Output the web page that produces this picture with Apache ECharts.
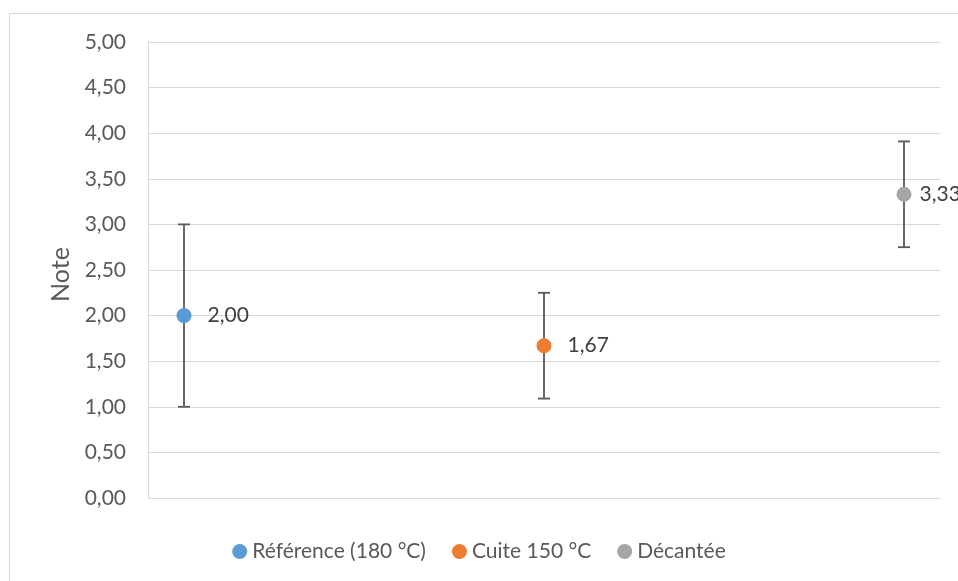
<!DOCTYPE html>
<html><head><meta charset="utf-8">
<script src="https://cdn.jsdelivr.net/npm/echarts@6/dist/echarts.min.js"></script>
<style>html,body{margin:0;padding:0;background:#fff}#c{width:958px;height:581px}</style>
</head><body><div id="c"></div>
<script>
var seriesNames = ['Référence (180 °C)', 'Cuite 150 °C', 'Décantée'];
var xPositions = [1, 2, 3];
var means = [2.00, 1.67, 3.33];
var errors = [1.00, 0.58, 0.58];
var colors = ['#5b9bd5', '#ed7d31', '#a5a5a5'];
var yTicks = [0, 0.5, 1, 1.5, 2, 2.5, 3, 3.5, 4, 4.5, 5];

var FONT = 'Lato, "Open Sans", sans-serif';
var FS = 21;
function fmt(v){ return v.toFixed(2).replace('.', ','); }
var labelDist = [16, 16, 8];

var series = [];
seriesNames.forEach(function(n, i){
  series.push({
    name: n, type: 'scatter', symbol: 'circle', symbolSize: 15,
    itemStyle: {color: colors[i], opacity: 1},
    data: [[xPositions[i], means[i]]],
    z: 5,
    label: {show: true, position: 'right', distance: labelDist[i], color: '#404040',
      fontFamily: FONT, fontSize: FS,
      formatter: function(p){ return fmt(p.value[1]); }}
  });
});
var errData = means.map(function(m, i){ return [xPositions[i], m - errors[i], m + errors[i]]; });
series.push({
  type: 'custom', name: 'err', silent: true, z: 3,
  data: errData,
  renderItem: function(params, api){
    var x = api.value(0);
    var lo = api.coord([x, api.value(1)]);
    var hi = api.coord([x, api.value(2)]);
    var cap = 6;
    var st = {stroke: '#595959', lineWidth: 1.8};
    return {type: 'group', children: [
      {type: 'line', shape: {x1: lo[0], y1: lo[1], x2: hi[0], y2: hi[1]}, style: st},
      {type: 'line', shape: {x1: lo[0]-cap, y1: lo[1], x2: lo[0]+cap, y2: lo[1]}, style: st},
      {type: 'line', shape: {x1: hi[0]-cap, y1: hi[1], x2: hi[0]+cap, y2: hi[1]}, style: st}
    ]};
  },
  encode: {x: 0, y: [1, 2]}
});

var chart = echarts.init(document.getElementById('c'));
chart.setOption({
  animation: false,
  backgroundColor: '#fff',
  graphic: [{type: 'rect', shape: {x: 9.5, y: 13.5, width: 1000, height: 700},
    style: {fill: 'none', stroke: '#d9d9d9', lineWidth: 1}, silent: true, z: -10}],
  grid: {left: 148, right: 18, top: 42, bottom: 83},
  xAxis: {type: 'value', min: 0.9, max: 3.1, show: false},
  yAxis: {
    type: 'value', min: 0, max: 5, interval: 0.5,
    name: 'Note', nameLocation: 'middle', nameGap: 74, nameRotate: 90,
    nameTextStyle: {color: '#595959', fontFamily: FONT, fontSize: 25, padding: [0, 9, 0, 0]},
    axisLine: {show: true, lineStyle: {color: '#d9d9d9', width: 1}},
    axisTick: {show: false},
    axisLabel: {color: '#595959', fontFamily: FONT, fontSize: FS, margin: 22,
      formatter: function(v){ return fmt(v); }},
    splitLine: {show: true, lineStyle: {color: '#d9d9d9', width: 1}}
  },
  legend: {
    data: seriesNames, top: 536, left: 'center', icon: 'circle',
    itemWidth: 15, itemHeight: 15, itemGap: 26,
    textStyle: {color: '#595959', fontFamily: FONT, fontSize: FS}
  },
  series: series
});
</script></body></html>
